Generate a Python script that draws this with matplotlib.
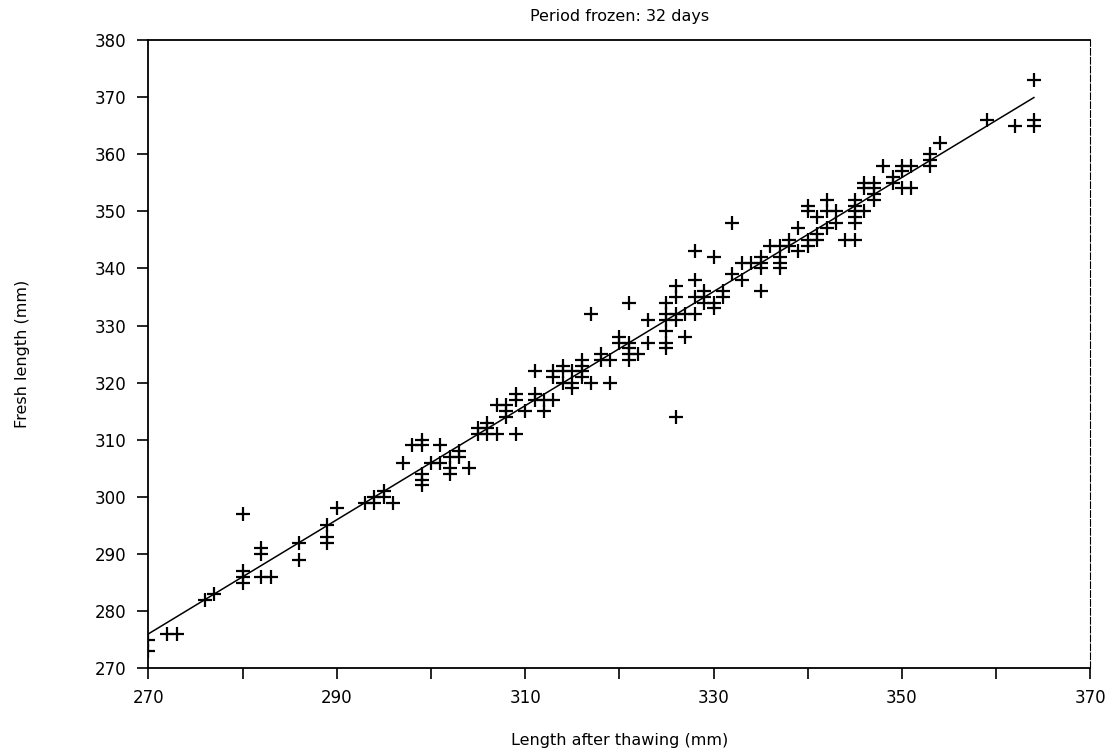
import numpy as np
import matplotlib
matplotlib.use("Agg")
import matplotlib.pyplot as plt

# length after thawing (mm)
thawed = [270, 270, 272, 273, 276, 277,
          280, 280, 280, 280, 282, 282, 282, 283, 286, 286,
          289, 289, 289, 290, 293, 294, 294, 295, 295, 296,
          297, 298, 299, 299, 299, 299, 299,
          300, 301, 301, 302, 302, 302, 303, 303, 304,
          305, 305, 306, 306, 306, 307,
          307, 308, 308, 308, 309, 309, 309, 310,
          311, 311, 312, 312, 313, 311,
          313, 313, 314, 314, 314, 315, 315,
          315, 316, 316, 316, 317, 316, 317,
          318, 318, 319, 319,
          320, 320, 321, 321, 321, 322, 321, 321,
          323, 323, 325, 325, 325, 325, 325, 325,
          326, 326, 326, 326, 327, 328, 327, 326,
          328, 328, 328, 329, 329, 329, 330, 330, 331, 331,
          330, 332, 332, 333, 333, 334, 335, 335, 335, 335,
          336, 337, 337, 337, 337,
          338, 338, 339, 339, 340, 341, 341, 342, 340,
          340, 340, 341, 342, 342, 343, 343, 344, 345,
          345, 345, 345, 345, 346, 345,
          346, 347, 346, 347, 347, 347, 348,
          349, 349, 350, 350, 351, 350, 351,
          353, 353, 353, 354, 359, 362, 364, 364, 364]

# fresh length (mm)
fresh = [275, 273, 276, 276, 282, 283,
         297, 287, 286, 285, 291, 290, 286, 286, 292, 289,
         295, 293, 292, 298, 299, 299, 300, 300, 301, 299,
         306, 309, 309, 310, 304, 303, 302,
         306, 306, 309, 305, 304, 307, 308, 307, 305,
         311, 312, 311, 312, 313, 311,
         316, 315, 314, 316, 317, 318, 311, 315,
         318, 317, 317, 315, 317, 322,
         322, 321, 323, 320, 322, 320, 319,
         322, 321, 323, 322, 320, 324, 332,
         325, 324, 324, 320,
         328, 327, 327, 325, 326, 325, 324, 334,
         331, 327, 334, 332, 331, 329, 327, 326,
         337, 335, 331, 332, 332, 332, 328, 314,
         343, 338, 335, 336, 334, 335, 333, 334, 335, 336,
         342, 348, 339, 338, 341, 341, 341, 340, 342, 336,
         344, 344, 342, 341, 340,
         344, 345, 347, 343, 345, 345, 346, 347, 344,
         351, 350, 349, 352, 350, 350, 348, 345, 345,
         352, 350, 351, 349, 350, 348,
         355, 355, 354, 353, 352, 354, 358,
         355, 356, 357, 358, 358, 354, 354,
         360, 359, 358, 362, 366, 365, 373, 366, 365]

title = "Period frozen: 32 days"
xlabel = "Length after thawing (mm)"
ylabel = "Fresh length (mm)"

plt.rcParams['font.family'] = ['DejaVu Sans']

fig = plt.figure(figsize=(11.07, 7.55), dpi=100)
ax = fig.add_axes([0.134, 0.115, 0.851, 0.832])

ax.plot(thawed, fresh, '+', color='black', markersize=10, markeredgewidth=1.6)

# least squares line over the data range
slope, icpt = np.polyfit(thawed, fresh, 1)
xs = np.array([min(thawed), max(thawed)])
ax.plot(xs, slope * xs + icpt, color='black', linewidth=1.1)

ax.set_xlim(270, 370)
ax.set_ylim(270, 380)
ax.set_xticks(np.arange(270, 371, 20))
ax.set_xticks(np.arange(270, 371, 10), minor=True)
ax.set_yticks(np.arange(270, 381, 10))
ax.tick_params(axis='both', which='both', direction='out', length=8, width=1.2,
               labelsize=12, colors='black')
ax.tick_params(axis='x', which='major', pad=7)
ax.tick_params(axis='y', which='major', pad=8)

for side in ['left', 'bottom', 'top']:
    ax.spines[side].set_linewidth(1.3)
ax.spines['right'].set_linewidth(0.8)
ax.spines['right'].set_linestyle((0, (6, 2)))

ax.set_title(title, fontsize=11.5, pad=14)
ax.set_xlabel(xlabel, fontsize=11.5, labelpad=19)
ax.set_ylabel(ylabel, fontsize=11.5, labelpad=46)

fig.savefig("out.png", dpi=100)
